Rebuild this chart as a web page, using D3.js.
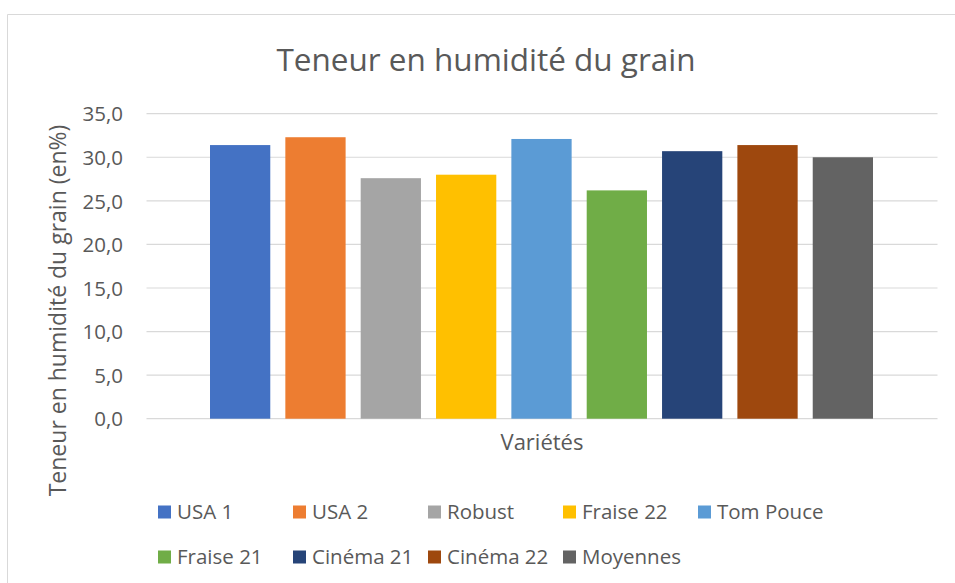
<!DOCTYPE html>
<html>
<head>
<meta charset="utf-8">
<script src="https://cdn.jsdelivr.net/npm/d3@7"></script>
<style>
  body { margin: 0; background: #fff; }
  svg text { font-family: "Open Sans", sans-serif; fill: #595959; }
</style>
</head>
<body>
<div id="viz"></div>
<script>
// Data
var varieties = ["USA 1", "USA 2", "Robust", "Fraise 22", "Tom Pouce", "Fraise 21", "Cinéma 21", "Cinéma 22", "Moyennes"];
var moisture = [31.4, 32.3, 27.6, 28.0, 32.1, 26.2, 30.7, 31.4, 30.0];
var colors = ["#4472C4", "#ED7D31", "#A5A5A5", "#FFC000", "#5B9BD5", "#70AD47", "#264478", "#9E480E", "#636363"];
var yTicks = [0, 5, 10, 15, 20, 25, 30, 35];

var width = 955, height = 583;
var plot = { left: 146.5, right: 937.5, top: 113.7, bottom: 418.7 };

var svg = d3.select("#viz").append("svg")
    .attr("width", width)
    .attr("height", height);

// chart frame (only top and left edges visible)
svg.append("path")
    .attr("d", "M7.5," + height + "V14.5H" + width)
    .attr("fill", "none")
    .attr("stroke", "#d9d9d9")
    .attr("stroke-width", 1);

// Scales
var y = d3.scaleLinear().domain([0, 35]).range([plot.bottom, plot.top]);
var x = d3.scaleBand().domain(varieties).range([210, 873]).paddingInner(0.2).paddingOuter(0);

// Gridlines
svg.append("g").selectAll("line")
    .data(yTicks)
    .enter().append("line")
    .attr("x1", plot.left).attr("x2", plot.right)
    .attr("y1", function(d) { return y(d); })
    .attr("y2", function(d) { return y(d); })
    .attr("stroke", "#d9d9d9")
    .attr("stroke-width", 1.2);

// Y axis labels
var fmt = function(d) { return d3.format(".1f")(d).replace(".", ","); };
var yAxis = svg.append("g")
    .attr("transform", "translate(123,0)")
    .call(d3.axisLeft(y).tickValues(yTicks).tickFormat(fmt).tickSize(0).tickPadding(0));
yAxis.select(".domain").remove();
yAxis.selectAll("text")
    .style("font-size", "20.5px")
    .attr("fill", "#595959")
    .attr("dy", "0.35em");

// Bars
svg.append("g").selectAll("rect")
    .data(varieties)
    .enter().append("rect")
    .attr("x", function(d) { return x(d); })
    .attr("width", x.bandwidth())
    .attr("y", function(d, i) { return y(moisture[i]); })
    .attr("height", function(d, i) { return y(0) - y(moisture[i]); })
    .attr("fill", function(d, i) { return colors[i]; });

// Title
svg.append("text")
    .attr("x", 486).attr("y", 71)
    .attr("text-anchor", "middle")
    .style("font-size", "31.5px")
    .text("Teneur en humidité du grain");

// X axis title
svg.append("text")
    .attr("x", 542).attr("y", 450)
    .attr("text-anchor", "middle")
    .style("font-size", "22px")
    .text("Variétés");

// Y axis title
svg.append("text")
    .attr("transform", "translate(66,310.5) rotate(-90)")
    .attr("text-anchor", "middle")
    .style("font-size", "23px")
    .text("Teneur en humidité du grain (en%)");

// Legend
var legend = svg.append("g").selectAll("g")
    .data(varieties)
    .enter().append("g")
    .attr("transform", function(d, i) {
        return "translate(" + (158 + (i % 5) * 135) + "," + (i < 5 ? 512 : 557) + ")";
    });
legend.append("rect")
    .attr("x", 0).attr("y", -6.5)
    .attr("width", 13).attr("height", 13)
    .attr("fill", function(d, i) { return colors[i]; });
legend.append("text")
    .attr("x", 19).attr("y", 0)
    .attr("dy", "0.35em")
    .style("font-size", "20.5px")
    .text(function(d) { return d; });
</script>
</body>
</html>
